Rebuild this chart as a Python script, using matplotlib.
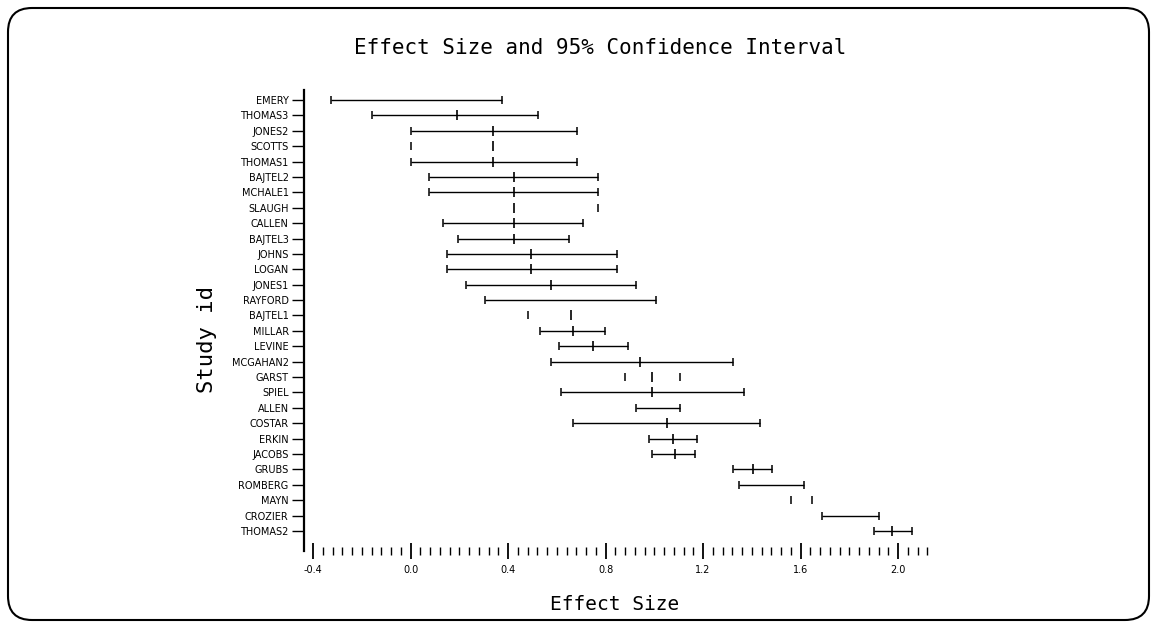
import numpy as np
import matplotlib
matplotlib.use("Agg")
import matplotlib.pyplot as plt
from matplotlib.patches import FancyBboxPatch

# study rows, top to bottom
studies = ["EMERY", "THOMAS3", "JONES2", "SCOTTS", "THOMAS1", "BAJTEL2", "MCHALE1",
           "SLAUGH", "CALLEN", "BAJTEL3", "JOHNS", "LOGAN", "JONES1", "RAYFORD",
           "BAJTEL1", "MILLAR", "LEVINE", "MCGAHAN2", "GARST", "SPIEL", "ALLEN",
           "COSTAR", "ERKIN", "JACOBS", "GRUBS", "ROMBERG", "MAYN", "CROZIER", "THOMAS2"]
nan = np.nan
lower = [-0.326, -0.158, 0.0, 0.0, 0.0, 0.076, 0.076, nan, 0.133, 0.195, 0.150, 0.150,
         0.228, 0.306, 0.482, 0.531, 0.609, 0.576, 0.880, 0.617, 0.925, 0.667, 0.978,
         0.991, 1.323, 1.348, 1.561, 1.688, 1.902]
effect = [nan, 0.191, 0.338, 0.338, 0.338, 0.425, 0.425, 0.425, 0.425, 0.425, 0.494,
          0.494, 0.576, nan, 0.658, 0.667, 0.749, 0.942, 0.991, 0.991, nan, 1.052,
          1.077, 1.085, 1.405, nan, nan, nan, 1.975]
upper = [0.375, 0.523, 0.683, nan, 0.683, 0.769, 0.769, 0.769, 0.708, 0.650, 0.847,
         0.847, 0.925, 1.007, nan, 0.798, 0.892, 1.323, 1.106, 1.368, 1.106, 1.434,
         1.175, 1.167, 1.483, 1.614, 1.647, 1.922, 2.057]
# rows where the interval line itself is not drawn in the picture
no_line = ["SCOTTS", "SLAUGH", "BAJTEL1", "GARST", "MAYN"]

xticks = [-0.4, 0.0, 0.4, 0.8, 1.2, 1.6, 2.0]
xticklabels = ["-0.4", "0.0", "0.4", "0.8", "1.2", "1.6", "2.0"]

W, H = 1157, 628
fig = plt.figure(figsize=(W / 100, H / 100), dpi=100)

# rounded frame around the whole picture
bg = fig.add_axes([0, 0, 1, 1])
bg.set_xlim(0, W)
bg.set_ylim(0, H)
bg.axis("off")
bg.add_patch(FancyBboxPatch((8, 8), W - 16, H - 16,
                            boxstyle="round,pad=0,rounding_size=24",
                            fc="white", ec="black", lw=1.5))

ax = fig.add_axes([304 / W, 77 / H, (937 - 304) / W, (551 - 90) / H])
ax.patch.set_alpha(0)
y = np.arange(len(studies))
lo = np.array(lower)
est = np.array(effect)
hi = np.array(upper)

for i, name in enumerate(studies):
    if name not in no_line:
        ax.hlines(i, lo[i], hi[i], color="black", lw=1.0)
ax.plot(lo, y, ls="none", marker="|", ms=5.5, mew=1.1, color="black")
ax.plot(hi, y, ls="none", marker="|", ms=5.5, mew=1.1, color="black")
ax.plot(est, y, ls="none", marker="|", ms=7.5, mew=1.2, color="black")

ax.set_xlim(-0.437, 2.16)
ax.set_ylim(len(studies) - 1 + 1.3, -0.65)

ax.set_yticks(y)
ax.set_yticklabels(studies, fontsize=7, family="DejaVu Sans")
ax.tick_params(axis="y", length=9, width=1.0, pad=2)

ax.set_xticks(xticks)
ax.set_xticklabels(xticklabels, fontsize=7, family="DejaVu Sans")
ax.set_xticks(np.arange(-0.4, 2.16, 0.04), minor=True)
ax.tick_params(axis="x", which="major", direction="inout", length=12, width=1.3, pad=4)
ax.tick_params(axis="x", which="minor", direction="inout", length=6, width=1.0)

for s in ["top", "right", "bottom"]:
    ax.spines[s].set_visible(False)
ax.spines["left"].set_linewidth(1.6)

fig.text(600 / W, 1 - 48 / H, "Effect Size and 95% Confidence Interval",
         ha="center", va="center", fontsize=15, family="DejaVu Sans Mono")
fig.text(615 / W, 1 - 605 / H, "Effect Size", ha="center", va="center",
         fontsize=14, family="DejaVu Sans Mono")
fig.text(207 / W, 1 - 339 / H, "Study id", ha="center", va="center", rotation=90,
         fontsize=16, family="DejaVu Sans Mono")

fig.savefig("out.png", dpi=100)
